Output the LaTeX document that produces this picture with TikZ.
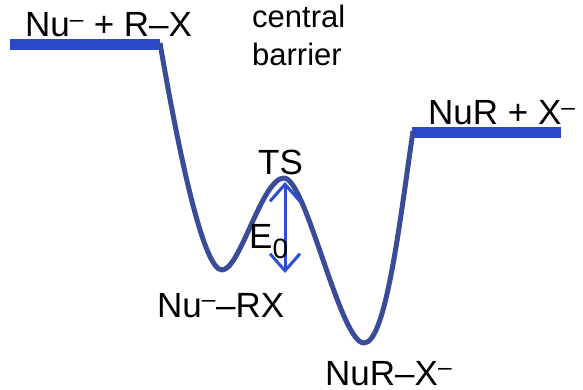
\documentclass[tikz,border=0pt]{standalone}
\usepackage{fontspec}
\setmainfont{Liberation Sans}
\usetikzlibrary{positioning, arrows.meta, calc}
\definecolor{levelblue}{RGB}{43, 72, 198}
\definecolor{curveblue}{RGB}{58, 76, 152}
\definecolor{arrowblue}{RGB}{45, 78, 212}

\begin{document}
\begin{tikzpicture}[
        x=1pt, y=-1pt,
        level/.style={levelblue, line width=11pt},
        pes/.style={curveblue, line width=5pt, line join=round},
        arrow/.style={{Straight Barb[length=17pt, width=30pt]}-{Straight Barb[length=17pt, width=30pt]}, line width=3pt, arrowblue},
        lbl/.style={anchor=base west, inner sep=0pt, font=\fontsize{35}{40}\selectfont},
        note/.style={anchor=base west, inner sep=0pt, align=left, font=\fontsize{31}{38}\selectfont}
    ]
        \useasboundingbox (0,0) rectangle (583,390);

        % energy levels
        \coordinate (r1) at (10,45);
        \coordinate (r2) at (160,45);
        \coordinate (p1) at (412,133);
        \coordinate (p2) at (561,133);
        \coordinate (ts) at (284,178);
        \coordinate (w1) at (222,270);
        \coordinate (w2) at (364,343);

        \draw[level] (r1) -- (r2);
        \draw[level] (p1) -- (p2);

        % potential energy curve
        \draw[pes] ($(r2)+(0,-2)$) .. controls (180,160) and (204,270) .. (w1)
            .. controls (240,270) and (262,178) .. (ts)
            .. controls (306,178) and (340,343) .. (w2)
            .. controls (386,343) and (400,220) .. ($(p1)+(1,-2)$);

        \coordinate (e0top) at (285,182);
        \coordinate (e0bot) at (285,273);
        \draw[arrow] (e0top) -- (e0bot);

        % labels
        \node[lbl] (reac) at (25,37) {Nu\textsuperscript{–} + R–X};
        \node[note] (barrier) at (252,66) {central\\barrier};
        \node[lbl] (prod) at (428,125) {NuR + X\textsuperscript{–}};
        \node[lbl] (tslbl) at (258,175) {TS};
        \node[lbl] (e0) at (249,248) {E\raisebox{-10pt}{\fontsize{28}{28}\selectfont 0}};
        \node[lbl] (rc) at (157,317) {Nu\textsuperscript{–}–RX};
        \node[lbl] (pc) at (325,385) {NuR–X\textsuperscript{–}};
    \end{tikzpicture}
\end{document}
